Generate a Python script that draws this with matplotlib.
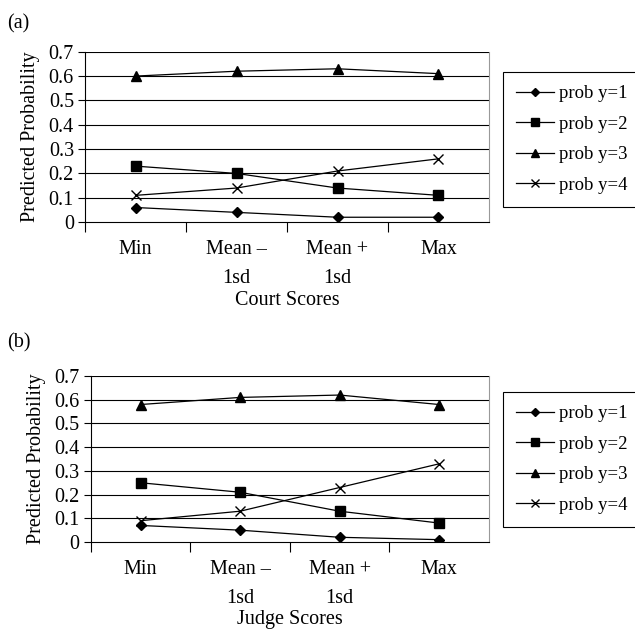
import matplotlib

matplotlib.use("Agg")
import matplotlib.pyplot as plt
import numpy as np

plt.rcParams["font.family"] = ["Liberation Serif", "DejaVu Serif"]
plt.rcParams["font.size"] = 14.5

categories = ["Min", "Mean \u2013\n1sd", "Mean +\n1sd", "Max"]
series_labels = ["prob y=1", "prob y=2", "prob y=3", "prob y=4"]
markers = ["D", "s", "^", "x"]
marker_sizes = [5.5, 7.5, 7.5, 7.5]

court_y1 = [0.06, 0.04, 0.02, 0.02]
court_y2 = [0.23, 0.20, 0.14, 0.11]
court_y3 = [0.60, 0.62, 0.63, 0.61]
court_y4 = [0.11, 0.14, 0.21, 0.26]

judge_y1 = [0.07, 0.05, 0.02, 0.01]
judge_y2 = [0.25, 0.21, 0.13, 0.08]
judge_y3 = [0.58, 0.61, 0.62, 0.58]
judge_y4 = [0.09, 0.13, 0.23, 0.33]

yticks = [0, 0.1, 0.2, 0.3, 0.4, 0.5, 0.6, 0.7]
ytick_labels = ["0", "0.1", "0.2", "0.3", "0.4", "0.5", "0.6", "0.7"]

fig = plt.figure(figsize=(6.35, 6.31), dpi=100)

panels = [
    ([0.134, 0.648, 0.636, 0.270], "(a)", 0.955, "Court Scores", 2,
     [court_y1, court_y2, court_y3, court_y4], 0.886),
    ([0.143, 0.141, 0.627, 0.263], "(b)", 0.450, "Judge Scores", 1,
     [judge_y1, judge_y2, judge_y3, judge_y4], 0.379),
]

for rect, tag, tag_y, xlabel, xlabel_pad, series, legend_top in panels:
    ax = fig.add_axes(rect)
    x = np.arange(len(categories))
    handles = []
    for values, label, marker, ms in zip(series, series_labels, markers, marker_sizes):
        (line,) = ax.plot(x, values, color="black", linewidth=0.9, marker=marker,
                          markersize=ms, markeredgewidth=1.0, label=label, zorder=3)
        handles.append(line)

    ax.set_xlim(-0.5, 3.5)
    ax.set_ylim(0, 0.7)
    ax.set_yticks(yticks)
    ax.set_yticklabels(ytick_labels)
    for yv in yticks[1:]:
        ax.axhline(yv, color="black", linewidth=0.8, zorder=1)

    ax.set_xticks(x)
    ax.set_xticklabels(categories, linespacing=1.72, va="top")
    ax.tick_params(axis="x", which="major", length=0, pad=13)
    ax.set_xticks([-0.5, 0.5, 1.5, 2.5], minor=True)
    ax.tick_params(axis="x", which="minor", length=7, width=0.8, direction="out")
    ax.tick_params(axis="y", length=5, width=0.8, pad=3)

    ax.spines["top"].set_visible(False)
    ax.spines["right"].set_color("#999999")
    ax.spines["left"].set_linewidth(0.8)
    ax.spines["bottom"].set_linewidth(0.8)

    ax.set_ylabel("Predicted Probability", labelpad=6)
    ax.set_xlabel(xlabel, labelpad=xlabel_pad)

    fig.text(0.011, tag_y, tag, fontsize=14.5)

    fig.legend(handles=handles, loc="upper left", fontsize=13.5,
               bbox_to_anchor=(0.792, legend_top), frameon=True, fancybox=False,
               edgecolor="black", framealpha=1, handlelength=2.0,
               handletextpad=0.3, labelspacing=0.72, borderpad=0.7,
               borderaxespad=0, markerscale=0.75)
    fig.legends[-1].get_frame().set_linewidth(0.8)

fig.savefig("out.png", dpi=100)
